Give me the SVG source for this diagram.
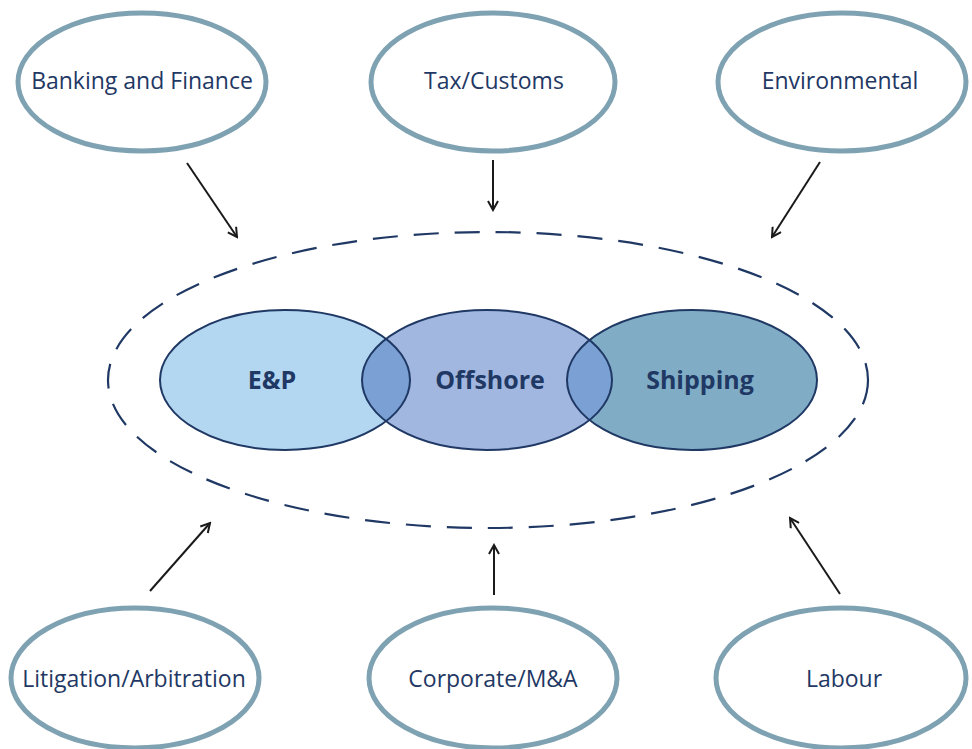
<svg xmlns="http://www.w3.org/2000/svg" width="972" height="749" viewBox="0 0 972 749">
<defs>
<style>
.outer{fill:#ffffff;stroke:#7fa2b3;stroke-width:5}
.lbl{font-family:"Open Sans","Noto Sans",sans-serif;font-size:23px;fill:#1f3864;text-anchor:middle}
.blbl{font-family:"Open Sans","Noto Sans",sans-serif;font-size:25px;font-weight:bold;fill:#1f3864;text-anchor:middle}
.ring{fill:none;stroke:#1f3864;stroke-width:2}
.arr{stroke:#1a1a1a;stroke-width:2;fill:none;marker-end:url(#ah)}
</style>
<marker id="ah" viewBox="0 0 12 12" refX="10" refY="6" markerWidth="12" markerHeight="12" markerUnits="userSpaceOnUse" orient="auto">
<path d="M1,1 L10,6 L1,11" fill="none" stroke="#1a1a1a" stroke-width="2"/>
</marker>
<clipPath id="cEP"><ellipse cx="285" cy="380" rx="125" ry="70"/></clipPath>
<clipPath id="cSH"><ellipse cx="692" cy="380" rx="125" ry="70"/></clipPath>
</defs>
<rect width="972" height="749" fill="#ffffff"/>
<g id="connectors">
<ellipse cx="488" cy="380" rx="380" ry="148" fill="none" stroke="#1f3864" stroke-width="2.2" stroke-dasharray="25,16"/>
<line class="arr" x1="187" y1="163" x2="237" y2="237"/>
<line class="arr" x1="493" y1="160" x2="493" y2="210"/>
<line class="arr" x1="820" y1="162" x2="772" y2="237"/>
<line class="arr" x1="150" y1="591" x2="210" y2="523"/>
<line class="arr" x1="494" y1="595" x2="494" y2="545"/>
<line class="arr" x1="840" y1="594" x2="790" y2="518"/>
</g>
<g id="banking"><ellipse class="outer" cx="142" cy="82" rx="124" ry="69"/><text class="lbl" x="142" y="89">Banking and Finance</text></g>
<g id="tax"><ellipse class="outer" cx="493" cy="82" rx="122" ry="69"/><text class="lbl" x="494" y="89">Tax/Customs</text></g>
<g id="environmental"><ellipse class="outer" cx="842" cy="82" rx="124" ry="69"/><text class="lbl" x="840" y="89">Environmental</text></g>
<g id="litigation"><ellipse class="outer" cx="135" cy="678" rx="124" ry="70"/><text class="lbl" x="134" y="687">Litigation/Arbitration</text></g>
<g id="corporate"><ellipse class="outer" cx="493" cy="678" rx="124" ry="70"/><text class="lbl" x="493" y="687">Corporate/M&amp;A</text></g>
<g id="labour"><ellipse class="outer" cx="841" cy="678" rx="125" ry="70"/><text class="lbl" x="844" y="687">Labour</text></g>
<g id="core">
<ellipse cx="285" cy="380" rx="125" ry="70" fill="#b4d7f1"/>
<ellipse cx="487" cy="380" rx="125" ry="70" fill="#a1b7e0"/>
<ellipse cx="692" cy="380" rx="125" ry="70" fill="#80adc5"/>
<ellipse cx="487" cy="380" rx="125" ry="70" fill="#7ba1d4" clip-path="url(#cEP)"/>
<ellipse cx="487" cy="380" rx="125" ry="70" fill="#7ba1d4" clip-path="url(#cSH)"/>
<ellipse class="ring" cx="285" cy="380" rx="125" ry="70"/>
<ellipse class="ring" cx="487" cy="380" rx="125" ry="70"/>
<ellipse class="ring" cx="692" cy="380" rx="125" ry="70"/>
</g>
<g id="ep"><text class="blbl" x="272" y="389">E&amp;P</text></g>
<g id="offshore"><text class="blbl" x="490" y="389">Offshore</text></g>
<g id="shipping"><text class="blbl" x="700" y="389">Shipping</text></g>
</svg>
